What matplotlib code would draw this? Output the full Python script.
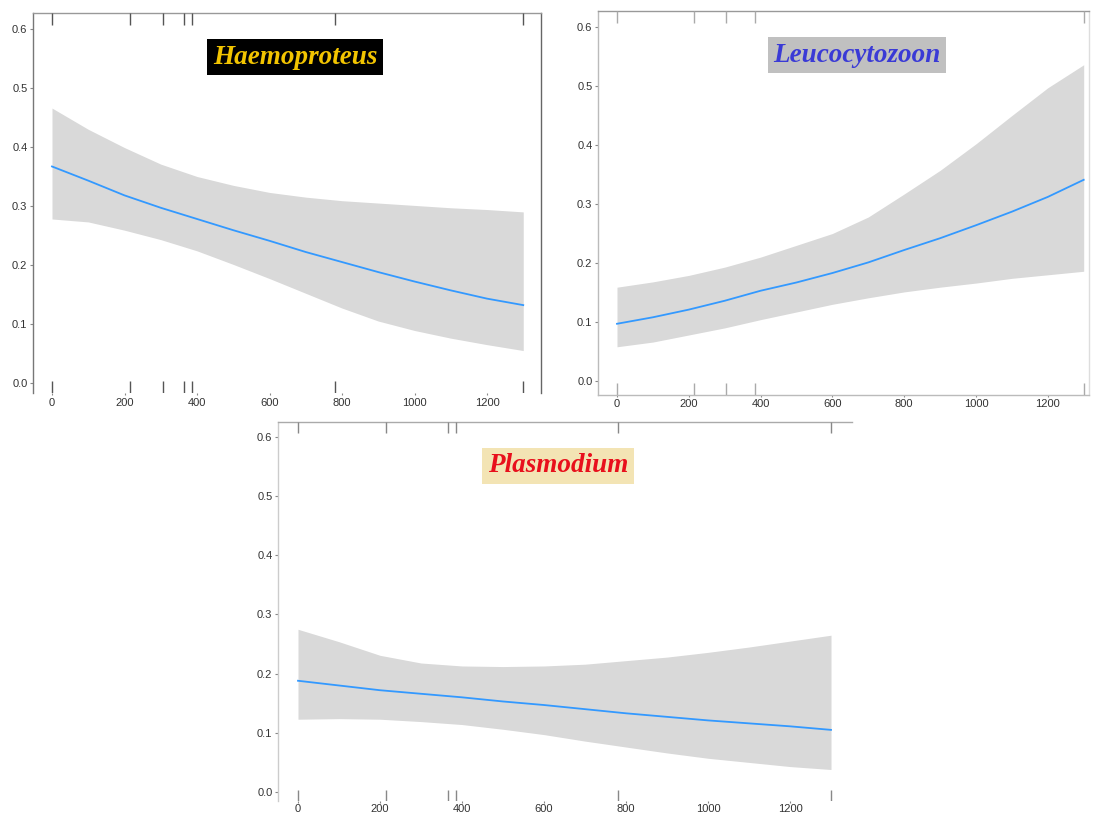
import matplotlib
matplotlib.use("Agg")
import matplotlib.pyplot as plt

# -----------------------------
# 1. Data
# -----------------------------
x_grid = [0, 100, 200, 300, 400, 500, 600, 700, 800, 900, 1000, 1100, 1200, 1300]

haemo_fit = [0.367, 0.343, 0.318, 0.297, 0.278, 0.259, 0.241, 0.222, 0.205, 0.188, 0.172, 0.157, 0.143, 0.132]
haemo_upper = [0.466, 0.430, 0.399, 0.371, 0.350, 0.335, 0.323, 0.315, 0.309, 0.305, 0.301, 0.297, 0.294, 0.290]
haemo_lower = [0.278, 0.273, 0.259, 0.243, 0.224, 0.201, 0.177, 0.152, 0.127, 0.105, 0.089, 0.076, 0.065, 0.055]
haemo_sites = [0, 215, 305, 365, 385, 780, 1300]

leuco_fit = [0.097, 0.108, 0.121, 0.136, 0.153, 0.167, 0.183, 0.201, 0.222, 0.242, 0.264, 0.287, 0.312, 0.341]
leuco_upper = [0.159, 0.168, 0.179, 0.193, 0.210, 0.230, 0.250, 0.278, 0.317, 0.357, 0.402, 0.450, 0.497, 0.536]
leuco_lower = [0.058, 0.066, 0.078, 0.090, 0.104, 0.117, 0.130, 0.141, 0.151, 0.159, 0.166, 0.174, 0.180, 0.186]
leuco_sites = [0, 215, 305, 385, 1300]

plasmo_fit = [0.188, 0.180, 0.172, 0.166, 0.160, 0.153, 0.147, 0.140, 0.133, 0.127, 0.121, 0.116, 0.111, 0.105]
plasmo_upper = [0.275, 0.254, 0.231, 0.218, 0.213, 0.212, 0.213, 0.216, 0.222, 0.228, 0.236, 0.245, 0.255, 0.265]
plasmo_lower = [0.123, 0.124, 0.123, 0.119, 0.114, 0.106, 0.097, 0.086, 0.076, 0.066, 0.057, 0.050, 0.043, 0.038]
plasmo_sites = [0, 215, 365, 385, 780, 1300]

x_ticks = [0, 200, 400, 600, 800, 1000, 1200]
y_ticks = [0.0, 0.1, 0.2, 0.3, 0.4, 0.5, 0.6]

# -----------------------------
# 2. Figure and panel layout (pixel boxes)
# -----------------------------
W, H = 1099, 819
fig = plt.figure(figsize=(W / 100, H / 100), dpi=100)
fig.patch.set_facecolor("white")


def make_axes(left, right, top, bottom):
    return fig.add_axes([left / W, 1 - bottom / H, (right - left) / W, (bottom - top) / H])


band_color = "#d9d9d9"
line_color = "#3399ff"


def draw_panel(ax, fit, upper, lower, sites, xlim, ylim, spines, rug_color, rug_len, xpad=2):
    ax.fill_between(x_grid, lower, upper, color=band_color, linewidth=0, zorder=1)
    ax.plot(x_grid, fit, color=line_color, linewidth=1.3, zorder=2)
    trans = ax.get_xaxis_transform()
    ax.vlines(sites, 0, rug_len, transform=trans, color=rug_color, linewidth=1.0, zorder=3)
    ax.vlines(sites, 1 - rug_len, 1, transform=trans, color=rug_color, linewidth=1.0, zorder=3)
    ax.set_xlim(*xlim)
    ax.set_ylim(*ylim)
    ax.set_xticks(x_ticks)
    ax.set_yticks(y_ticks)
    ax.set_yticklabels([f"{v:.1f}" for v in y_ticks])
    ax.tick_params(axis="both", labelsize=8, labelcolor="#333333", color="#888888",
                   length=2, width=0.8, pad=2)
    ax.tick_params(axis="x", length=1.5, pad=xpad)
    for lbl in ax.get_xticklabels() + ax.get_yticklabels():
        lbl.set_fontfamily("Liberation Sans")
    for name, sp in ax.spines.items():
        if name in spines:
            sp.set_color(spines[name])
            sp.set_linewidth(1.0)
        else:
            sp.set_visible(False)


def add_title(x_px, y_px, text, fg, bg):
    fig.text(x_px / W, 1 - y_px / H, text, ha="center", va="center",
             fontsize=19.5, fontweight="bold", fontstyle="italic",
             family="Liberation Serif", color=fg,
             bbox=dict(boxstyle="square,pad=0.2", facecolor=bg, edgecolor="none"))


# Haemoproteus (top left)
ax1 = make_axes(33, 541, 13, 393)
draw_panel(ax1, haemo_fit, haemo_upper, haemo_lower, haemo_sites,
           ((33 - 52) / 0.3625, (541 - 52) / 0.3625), ((383 - 393) / 590, (383 - 13) / 590),
           {"left": "#777777", "top": "#999999", "right": "#666666"}, "#555555", 0.032)

# Leucocytozoon (top right)
ax2 = make_axes(598, 1089, 11, 395)
draw_panel(ax2, leuco_fit, leuco_upper, leuco_lower, leuco_sites,
           ((598 - 617) / 0.359, (1089 - 617) / 0.359), ((381 - 395) / 590, (381 - 11) / 590),
           {"left": "#bbbbbb", "top": "#999999", "bottom": "#bbbbbb", "right": "#dddddd"},
           "#aaaaaa", 0.032, xpad=1.5)

# Plasmodium (bottom centre)
ax3 = make_axes(278, 852, 422, 801)
draw_panel(ax3, plasmo_fit, plasmo_upper, plasmo_lower, plasmo_sites,
           ((278 - 298) / 0.41, (852 - 298) / 0.41), ((792 - 801) / 591.7, (792 - 422) / 591.7),
           {"left": "#cccccc", "top": "#aaaaaa"}, "#888888", 0.03, xpad=1)

# -----------------------------
# 3. Panel titles
# -----------------------------
add_title(295, 57, "Haemoproteus", "#f2c400", "black")
add_title(857, 55, "Leucocytozoon", "#3a3ad6", "#c0c0c0")
add_title(558, 466, "Plasmodium", "#e8101c", "#f3e4b4")

fig.savefig("out.png", dpi=100)
